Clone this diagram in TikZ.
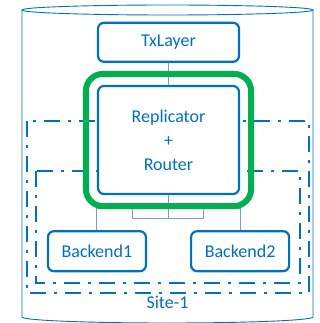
\documentclass[tikz,border=0pt]{standalone}
\usepackage{fontspec}
\setmainfont{Carlito}
\usepackage{xcolor}
\usetikzlibrary{positioning,fit}
\definecolor{siteblue}{RGB}{0,112,192}
\definecolor{linkblue}{RGB}{125,155,215}
\definecolor{grn}{RGB}{0,176,80}

\begin{document}
\begin{tikzpicture}[
   x=1pt,y=-1pt,
   font=\fontsize{18}{24}\selectfont,
   box/.style={draw=siteblue,line width=2.2pt,rounded corners=6pt,fill=white,
               text=siteblue,minimum width=141pt,minimum height=39pt,align=center},
   be/.style={box,minimum width=98pt,minimum height=40pt},
   zone/.style={draw=siteblue,line width=2.8pt,dash pattern=on 16pt off 8pt on 3pt off 8pt},
   hot/.style={draw=grn,line width=6pt,rounded corners=17pt,inner sep=11pt},
   link/.style={linkblue,line width=1pt}
  ]
  \useasboundingbox (0,0) rectangle (320,323);

  % site cylinder
  \draw[siteblue,line width=0.9pt] (167.5,10) ellipse [x radius=145.5pt,y radius=5pt];
  \draw[siteblue,line width=0.9pt] (22,10) -- (22,317)
      arc[start angle=180,end angle=360,x radius=145.5pt,y radius=6pt] -- (313,10);

  % failure zones
  \draw[zone] (27,121) rectangle (309,293);
  \draw[zone] (36,171) rectangle (300,283);

  \node[box,minimum height=108pt] (rep) at (168.5,140) {Replicator\\+\\Router};
  \node[box,above=22pt of rep] (txl) {TxLayer};
  \node[be,below=35pt of rep.south west] (be1) {Backend1};
  \node[be,below=35pt of rep.south east] (be2) {Backend2};
  \node[text=siteblue] (site) at (167.5,302) {Site-1};

  \draw[link] (txl) -- (rep);
  \draw[link] (rep.south) -- ++(0,23) -- ++(-36,0) -- ++(0,-10) -| (be1.north);
  \draw[link] (rep.south) -- ++(0,23) -- ++(35,0) -- ++(0,-10) -| (be2.north);

  \node[hot,fit=(rep)] (grp) {};
\end{tikzpicture}
\end{document}
